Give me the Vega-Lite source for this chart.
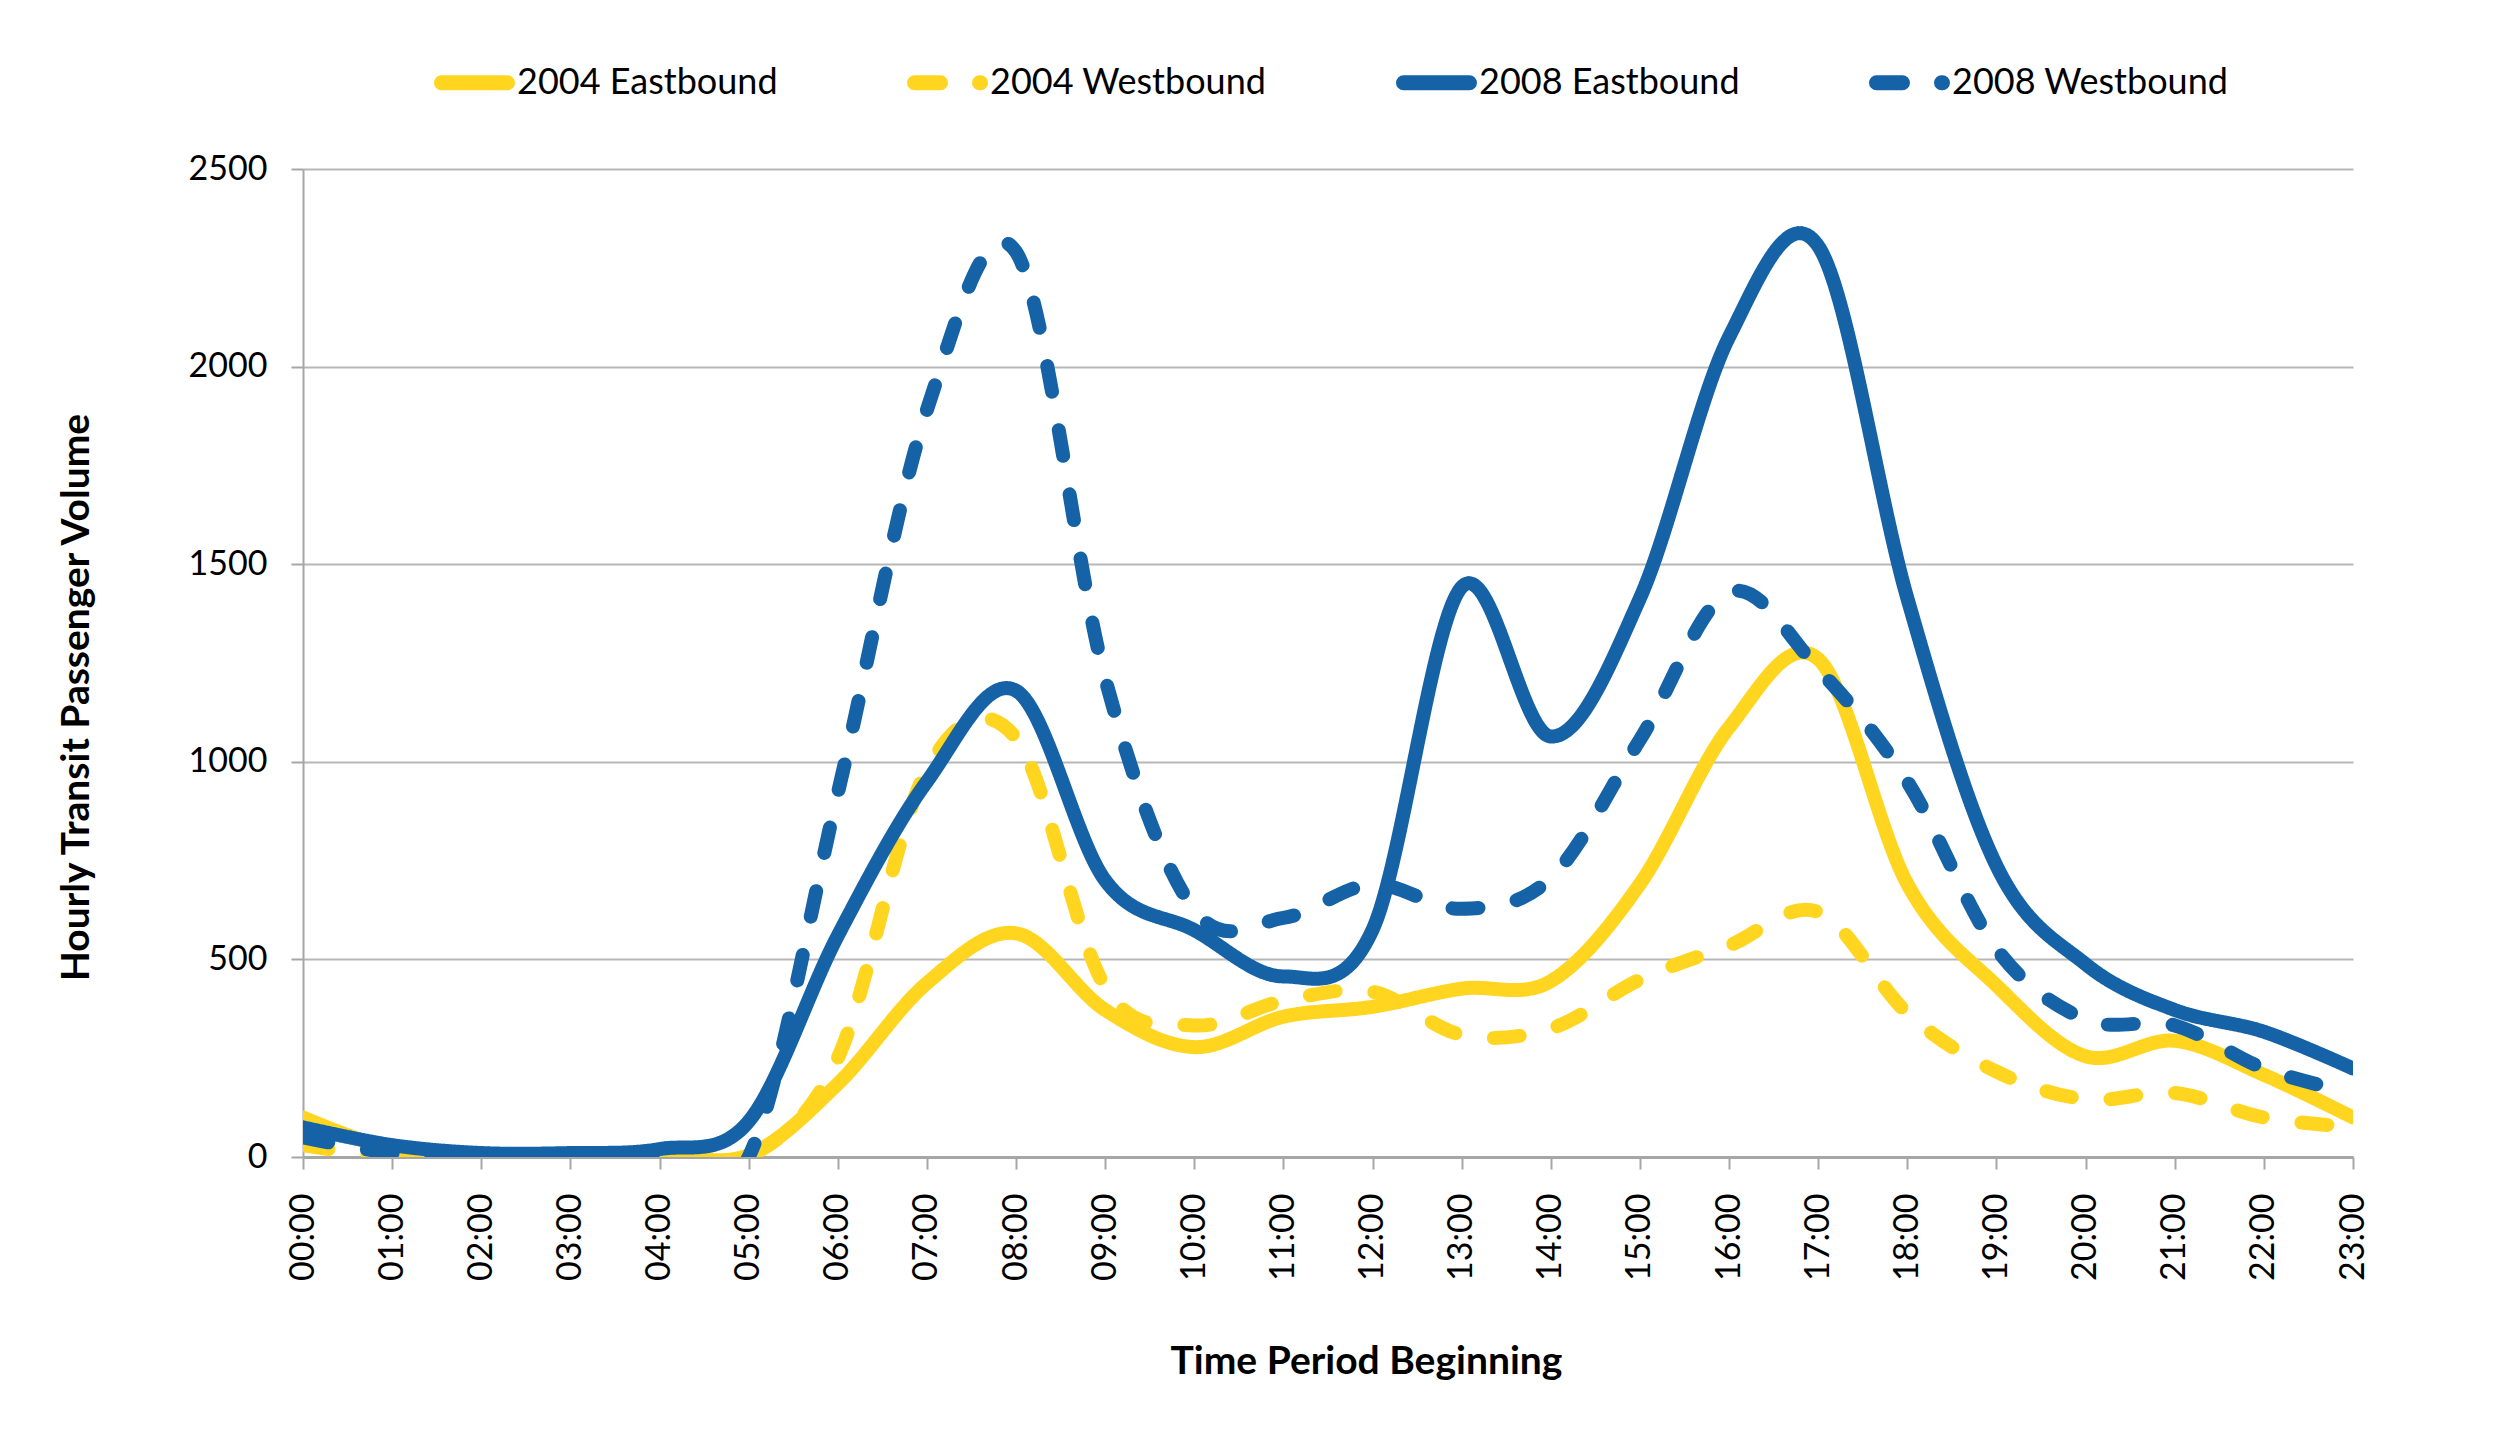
{
  "$schema": "https://vega.github.io/schema/vega-lite/v6.json",
  "autosize": {"type": "none"},
  "width": 2050,
  "height": 988,
  "padding": {"left": 303, "top": 169, "right": 148, "bottom": 293},
  "background": "white",
  "datasets": {
    "rows": [
      {"hour": "00:00", "series": "2004 Eastbound", "value": 100},
      {"hour": "01:00", "series": "2004 Eastbound", "value": 20},
      {"hour": "02:00", "series": "2004 Eastbound", "value": 5},
      {"hour": "03:00", "series": "2004 Eastbound", "value": 5},
      {"hour": "04:00", "series": "2004 Eastbound", "value": 5},
      {"hour": "05:00", "series": "2004 Eastbound", "value": 5},
      {"hour": "06:00", "series": "2004 Eastbound", "value": 185},
      {"hour": "07:00", "series": "2004 Eastbound", "value": 440},
      {"hour": "08:00", "series": "2004 Eastbound", "value": 566},
      {"hour": "09:00", "series": "2004 Eastbound", "value": 372},
      {"hour": "10:00", "series": "2004 Eastbound", "value": 278},
      {"hour": "11:00", "series": "2004 Eastbound", "value": 355},
      {"hour": "12:00", "series": "2004 Eastbound", "value": 380},
      {"hour": "13:00", "series": "2004 Eastbound", "value": 426},
      {"hour": "14:00", "series": "2004 Eastbound", "value": 445},
      {"hour": "15:00", "series": "2004 Eastbound", "value": 691},
      {"hour": "16:00", "series": "2004 Eastbound", "value": 1087},
      {"hour": "17:00", "series": "2004 Eastbound", "value": 1260},
      {"hour": "18:00", "series": "2004 Eastbound", "value": 691},
      {"hour": "19:00", "series": "2004 Eastbound", "value": 434},
      {"hour": "20:00", "series": "2004 Eastbound", "value": 255},
      {"hour": "21:00", "series": "2004 Eastbound", "value": 294},
      {"hour": "22:00", "series": "2004 Eastbound", "value": 208},
      {"hour": "23:00", "series": "2004 Eastbound", "value": 100},

      {"hour": "00:00", "series": "2004 Westbound", "value": 30},
      {"hour": "01:00", "series": "2004 Westbound", "value": 0},
      {"hour": "02:00", "series": "2004 Westbound", "value": 0},
      {"hour": "03:00", "series": "2004 Westbound", "value": 5},
      {"hour": "04:00", "series": "2004 Westbound", "value": 0},
      {"hour": "05:00", "series": "2004 Westbound", "value": 0},
      {"hour": "06:00", "series": "2004 Westbound", "value": 250},
      {"hour": "07:00", "series": "2004 Westbound", "value": 980},
      {"hour": "08:00", "series": "2004 Westbound", "value": 1060},
      {"hour": "09:00", "series": "2004 Westbound", "value": 430},
      {"hour": "10:00", "series": "2004 Westbound", "value": 333},
      {"hour": "11:00", "series": "2004 Westbound", "value": 395},
      {"hour": "12:00", "series": "2004 Westbound", "value": 418},
      {"hour": "13:00", "series": "2004 Westbound", "value": 309},
      {"hour": "14:00", "series": "2004 Westbound", "value": 325},
      {"hour": "15:00", "series": "2004 Westbound", "value": 449},
      {"hour": "16:00", "series": "2004 Westbound", "value": 535},
      {"hour": "17:00", "series": "2004 Westbound", "value": 620},
      {"hour": "18:00", "series": "2004 Westbound", "value": 364},
      {"hour": "19:00", "series": "2004 Westbound", "value": 216},
      {"hour": "20:00", "series": "2004 Westbound", "value": 146},
      {"hour": "21:00", "series": "2004 Westbound", "value": 162},
      {"hour": "22:00", "series": "2004 Westbound", "value": 100},
      {"hour": "23:00", "series": "2004 Westbound", "value": 76},

      {"hour": "00:00", "series": "2008 Eastbound", "value": 75},
      {"hour": "01:00", "series": "2008 Eastbound", "value": 30},
      {"hour": "02:00", "series": "2008 Eastbound", "value": 10},
      {"hour": "03:00", "series": "2008 Eastbound", "value": 10},
      {"hour": "04:00", "series": "2008 Eastbound", "value": 20},
      {"hour": "05:00", "series": "2008 Eastbound", "value": 90},
      {"hour": "06:00", "series": "2008 Eastbound", "value": 560},
      {"hour": "07:00", "series": "2008 Eastbound", "value": 950},
      {"hour": "08:00", "series": "2008 Eastbound", "value": 1180},
      {"hour": "09:00", "series": "2008 Eastbound", "value": 700},
      {"hour": "10:00", "series": "2008 Eastbound", "value": 574},
      {"hour": "11:00", "series": "2008 Eastbound", "value": 457},
      {"hour": "12:00", "series": "2008 Eastbound", "value": 575},
      {"hour": "13:00", "series": "2008 Eastbound", "value": 1442},
      {"hour": "14:00", "series": "2008 Eastbound", "value": 1064},
      {"hour": "15:00", "series": "2008 Eastbound", "value": 1414},
      {"hour": "16:00", "series": "2008 Eastbound", "value": 2075},
      {"hour": "17:00", "series": "2008 Eastbound", "value": 2305},
      {"hour": "18:00", "series": "2008 Eastbound", "value": 1414},
      {"hour": "19:00", "series": "2008 Eastbound", "value": 737},
      {"hour": "20:00", "series": "2008 Eastbound", "value": 488},
      {"hour": "21:00", "series": "2008 Eastbound", "value": 372},
      {"hour": "22:00", "series": "2008 Eastbound", "value": 317},
      {"hour": "23:00", "series": "2008 Eastbound", "value": 224},

      {"hour": "00:00", "series": "2008 Westbound", "value": 50},
      {"hour": "01:00", "series": "2008 Westbound", "value": 10},
      {"hour": "02:00", "series": "2008 Westbound", "value": 0},
      {"hour": "03:00", "series": "2008 Westbound", "value": 0},
      {"hour": "04:00", "series": "2008 Westbound", "value": 0},
      {"hour": "05:00", "series": "2008 Westbound", "value": 0},
      {"hour": "06:00", "series": "2008 Westbound", "value": 920},
      {"hour": "07:00", "series": "2008 Westbound", "value": 1890},
      {"hour": "08:00", "series": "2008 Westbound", "value": 2290},
      {"hour": "09:00", "series": "2008 Westbound", "value": 1211},
      {"hour": "10:00", "series": "2008 Westbound", "value": 625},
      {"hour": "11:00", "series": "2008 Westbound", "value": 605},
      {"hour": "12:00", "series": "2008 Westbound", "value": 690},
      {"hour": "13:00", "series": "2008 Westbound", "value": 628},
      {"hour": "14:00", "series": "2008 Westbound", "value": 706},
      {"hour": "15:00", "series": "2008 Westbound", "value": 1056},
      {"hour": "16:00", "series": "2008 Westbound", "value": 1429},
      {"hour": "17:00", "series": "2008 Westbound", "value": 1235},
      {"hour": "18:00", "series": "2008 Westbound", "value": 950},
      {"hour": "19:00", "series": "2008 Westbound", "value": 527},
      {"hour": "20:00", "series": "2008 Westbound", "value": 348},
      {"hour": "21:00", "series": "2008 Westbound", "value": 333},
      {"hour": "22:00", "series": "2008 Westbound", "value": 224},
      {"hour": "23:00", "series": "2008 Westbound", "value": 162}
    ]
  },
  "data": {"name": "rows"},
  "mark": {"type": "line", "interpolate": "cardinal", "strokeWidth": 14, "strokeCap": "round", "strokeJoin": "round", "clip": true},
  "encoding": {
    "x": {
      "field": "hour",
      "type": "ordinal",
      "scale": {"type": "point", "padding": 0},
      "axis": {
        "title": "Time Period Beginning",
        "labelAngle": 270,
        "labelFont": "Lato",
        "labelFontSize": 34,
        "labelColor": "#000000",
        "labelPadding": 24,
        "tickSize": 12,
        "tickColor": "#A6A6A6",
        "tickWidth": 2,
        "domainColor": "#A6A6A6",
        "domainWidth": 3,
        "grid": false,
        "titleFont": "Lato",
        "titleFontSize": 39,
        "titleFontWeight": "bold",
        "titleColor": "#000000",
        "titlePadding": 62,
        "titleX": 1063
      }
    },
    "y": {
      "field": "value",
      "type": "quantitative",
      "scale": {"domain": [0, 2500], "nice": false},
      "axis": {
        "title": "Hourly Transit Passenger Volume",
        "values": [0, 500, 1000, 1500, 2000, 2500],
        "format": "d",
        "labelFont": "Lato",
        "labelFontSize": 34,
        "labelColor": "#000000",
        "labelPadding": 24,
        "tickSize": 12,
        "tickColor": "#A6A6A6",
        "tickWidth": 2,
        "domainColor": "#A6A6A6",
        "domainWidth": 2,
        "gridColor": "#B7B7B7",
        "gridWidth": 2,
        "titleFont": "Lato",
        "titleFontSize": 39,
        "titleFontWeight": "bold",
        "titleColor": "#000000",
        "titlePadding": 92,
        "titleY": 528
      }
    },
    "color": {
      "field": "series",
      "type": "nominal",
      "scale": {
        "domain": ["2004 Eastbound", "2004 Westbound", "2008 Eastbound", "2008 Westbound"],
        "range": ["#FFD520", "#FFD520", "#1562A6", "#1562A6"]
      },
      "legend": {
        "title": null,
        "orient": "none",
        "direction": "horizontal",
        "columns": 4,
        "legendX": 131,
        "legendY": -127,
        "symbolType": "stroke",
        "symbolSize": 4356,
        "symbolStrokeWidth": 15,
        "labelFont": "Lato",
        "labelFontSize": 36,
        "labelColor": "#000000",
        "labelOffset": 2,
        "columnPadding": 106,
        "labelLimit": 600,
        "encode": {"symbols": {"update": {"strokeCap": {"value": "round"}}}}
      }
    },
    "strokeDash": {
      "field": "series",
      "type": "nominal",
      "scale": {
        "domain": ["2004 Eastbound", "2004 Westbound", "2008 Eastbound", "2008 Westbound"],
        "range": [[1, 0], [26, 39], [1, 0], [26, 39]]
      },
      "legend": {
        "title": null,
        "orient": "none",
        "direction": "horizontal",
        "columns": 4,
        "legendX": 131,
        "legendY": -127,
        "symbolType": "stroke",
        "symbolSize": 4356,
        "symbolStrokeWidth": 15,
        "labelFont": "Lato",
        "labelFontSize": 36,
        "labelColor": "#000000",
        "labelOffset": 2,
        "columnPadding": 106,
        "labelLimit": 600,
        "encode": {"symbols": {"update": {"strokeCap": {"value": "round"}}}}
      }
    }
  },
  "config": {"view": {"stroke": null}}
}
